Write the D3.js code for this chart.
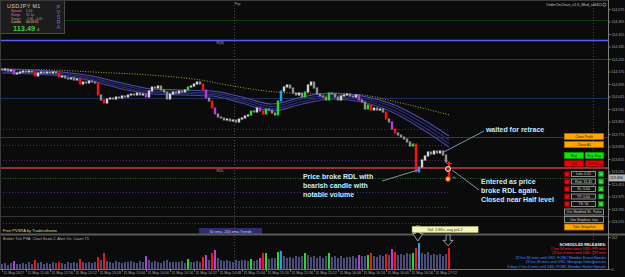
<!DOCTYPE html>
<html>
<head>
<meta charset="utf-8">
<script src="https://cdn.jsdelivr.net/npm/d3@7"></script>
<style>
  html, body { margin: 0; padding: 0; background: #0b0b0b; overflow: hidden; }
  svg { display: block; }
  text { font-family: "Liberation Sans", Arial, sans-serif; }
</style>
</head>
<body>
<script>
// USDJPY M1 closes (2-minute steps)
const firstOpen = 114.188;
const closes = [
  114.185, 114.191, 114.178, 114.185, 114.159, 114.165, 114.172, 114.178, 114.172, 114.178,
  114.172, 114.146, 114.165, 114.172, 114.165, 114.172, 114.165, 114.172, 114.165, 114.140,
  114.146, 114.133, 114.127, 114.133, 114.121, 114.127, 114.095, 114.108, 114.101, 114.114,
  114.108, 114.101, 114.025, 113.993, 113.973, 113.999, 114.005, 113.999, 114.012, 114.005,
  114.018, 114.012, 114.025, 114.031, 114.025, 114.037, 114.025, 114.031, 114.012, 114.050,
  114.076, 114.069, 114.082, 114.057, 114.044, 113.999, 114.031, 114.044, 114.037, 114.050,
  114.044, 114.057, 114.076, 114.082, 114.095, 114.108, 114.095, 114.057, 114.005, 113.986,
  113.941, 113.903, 113.884, 113.877, 113.865, 113.871, 113.858, 113.865, 113.852, 113.871,
  113.877, 113.890, 113.897, 113.922, 113.916, 113.941, 113.922, 113.903, 113.935, 113.929,
  113.909, 113.897, 113.986, 114.050, 114.076, 114.089, 114.069, 114.037, 114.025, 114.037,
  114.012, 114.044, 114.089, 114.108, 114.069, 114.031, 114.018, 114.012, 113.993, 114.037,
  114.031, 114.012, 113.993, 114.018, 114.025, 114.031, 114.018, 114.012, 114.025, 113.993,
  113.980, 113.935, 113.961, 113.929, 113.941, 113.929, 113.935, 113.916, 113.871, 113.852,
  113.807, 113.781, 113.769, 113.756, 113.743, 113.724, 113.698, 113.711, 113.532, 113.564,
  113.609, 113.634, 113.660, 113.647, 113.666, 113.653, 113.666, 113.641, 113.596, 113.494
];

const volumes = [
  18, 22, 15, 20, 28, 19, 16, 21, 17, 23,
  18, 32, 20, 24, 18, 22, 19, 25, 21, 26,
  22, 19, 24, 20, 23, 21, 35, 24, 20, 26,
  22, 25, 42, 30, 56, 28, 25, 22, 27, 24,
  21, 26, 23, 28, 25, 22, 27, 24, 45, 30,
  26, 28, 24, 22, 27, 30, 25, 23, 26, 24,
  28, 22, 35, 26, 24, 28, 25, 42, 49, 32,
  56, 66, 38, 30, 27, 32, 29, 26, 31, 28,
  33, 30, 27, 36, 29, 33, 40, 56, 56, 36,
  40, 38, 60, 63, 45, 40, 43, 38, 47, 42,
  44, 56, 48, 42, 46, 40, 44, 39, 45, 56,
  42, 46, 40, 44, 38, 43, 41, 45, 39, 48,
  44, 47, 50, 56, 45, 42, 48, 44, 52, 48,
  70, 60, 50, 53, 48, 55, 51, 56, 74, 91,
  55, 52, 58, 50, 54, 49, 53, 47, 51, 74
];

// PVSRA coloured bars: r climax bear, g climax bull, m rising bear, b rising bull
const pvsraBars = [
  [4, 'm'], [11, 'r'], [19, 'r'], [26, 'r'], [32, 'r'], [34, 'r'], [48, 'm'], [62, 'g'],
  [67, 'r'], [68, 'm'], [70, 'r'], [71, 'm'], [83, 'g'], [86, 'm'], [87, 'r'], [88, 'g'],
  [92, 'g'], [93, 'b'], [101, 'g'], [109, 'g'], [119, 'm'], [122, 'g'], [123, 'r'],
  [128, 'r'], [130, 'm'], [131, 'r'], [137, 'g'], [138, 'r'], [139, 'b'], [149, 'r']
];

// 50 ema ribbon, sampled at these bars
const ribbonBars = [0, 10, 20, 30, 40, 50, 60, 70, 80, 90, 100, 110, 120, 130, 140, 149];
const ribbon1 = [114.191, 114.185, 114.172, 114.146, 114.101, 114.063, 114.057, 114.050, 114.012, 113.967, 114.012, 114.037, 114.018, 113.967, 113.871, 113.762];
const ribbon2 = [114.181, 114.175, 114.162, 114.133, 114.089, 114.050, 114.044, 114.037, 113.999, 113.951, 113.999, 114.025, 114.005, 113.951, 113.849, 113.737];
const ribbon3 = [114.172, 114.165, 114.153, 114.124, 114.076, 114.041, 114.034, 114.028, 113.986, 113.935, 113.983, 114.012, 113.993, 113.932, 113.826, 113.714];
const ribbon4 = [114.165, 114.159, 114.146, 114.114, 114.063, 114.031, 114.025, 114.018, 113.973, 113.922, 113.967, 113.999, 113.980, 113.916, 113.807, 113.692];

// 200 ema
const ema200Bars = [0, 16, 33, 49, 66, 77, 88, 100, 118, 133, 149];
const ema200 = [114.190, 114.185, 114.169, 114.153, 114.121, 114.082, 114.050, 114.034, 114.028, 113.973, 113.897];

// levels
const solidLevels = [114.505, 114.377, 114.255, 114.005, 113.756, 113.250];
const dottedLevels = [113.807, 113.705, 113.609, 113.404, 113.308, 113.205];
const rdlLevel = 113.557;
const bid = 113.494;

// trade
const tradeEntry = 113.551;
const tradeExit = 113.487;
const tradeStop = 113.591;
const tradeTarget = 113.500;

const priceTicks = [114.575, 114.495, 114.415, 114.335, 114.255, 114.175, 114.095, 114.015, 113.935,
  113.855, 113.775, 113.695, 113.615, 113.535, 113.455, 113.375, 113.295, 113.215];
const volTicks = [0, 112];
const timeLabels = ["11 May 2017", "11 May 12:40", "11 May 12:56", "11 May 13:12", "11 May 13:28",
  "11 May 13:44", "11 May 14:00", "11 May 14:16", "11 May 14:32", "11 May 14:48", "11 May 15:04",
  "11 May 15:20", "11 May 15:36", "11 May 15:52", "11 May 16:08", "11 May 16:24", "11 May 16:40",
  "11 May 16:56", "11 May 17:12"];

const releases = [
  "1 hrs 54 mins since USD: PPI m/m",
  "22 hrs 4 mins until USD: CPI m/m",
  "22 hrs 36 mins until USD: FOMC Member Evans Speaks",
  "23 hrs 36 mins until USD: Mortgage Delinquencies",
  "3 days 2 hrs 4 mins until USD: FOMC Member Harker Speaks"
];

const note1 = ["waited for retrace"];
const note2 = ["Price broke RDL with", "bearish candle with", "notable volume"];
const note3 = ["Entered as price", "broke RDL again.", "Closed near Half level"];

const W = 625, H = 277;
const t0 = new Date(2017, 4, 11, 12, 24);
const barTime = i => new Date(t0.getTime() + i * 120000);

const x = d3.scaleTime().domain([t0, d3.timeMinute.offset(t0, 400)]).range([2, 602]);
const y = d3.scaleLinear().domain([113.135, 114.575]).range([234, 9]);
const yv = d3.scaleLinear().domain([0, 112]).range([269, 237]);
const bx = i => Math.round(x(barTime(i)));

const pvsraColor = { r: '#ff1010', g: '#20e020', m: '#b040dc', b: '#1e9cff' };

const svg = d3.select('body').append('svg').attr('width', W).attr('height', H);
svg.append('rect').attr('width', W).attr('height', H).attr('fill', '#0b0b0b');

svg.append('clipPath').attr('id', 'main')
  .append('rect').attr('x', 1).attr('y', 1).attr('width', 607).attr('height', 232);
const plot = svg.append('g').attr('clip-path', 'url(#main)');

// horizontal levels
const solidColor = ['#0f3c0f', '#5c5cf4', '#36361e', '#1e2d5e', '#3c3c1e', '#333333'];
plot.selectAll('line.lvl').data(solidLevels).join('line')
  .attr('x1', 0).attr('x2', 608)
  .attr('y1', d => Math.round(y(d)) + 0.5).attr('y2', d => Math.round(y(d)) + 0.5)
  .attr('stroke', (d, i) => solidColor[i])
  .attr('stroke-width', (d, i) => i == 1 ? 1.3 : 1);

plot.selectAll('line.dot').data(dottedLevels).join('line')
  .attr('x1', 0).attr('x2', bx(149) + 1)
  .attr('y1', d => Math.round(y(d)) + 0.5).attr('y2', d => Math.round(y(d)) + 0.5)
  .attr('stroke', '#4c2470').attr('stroke-dasharray', '1,2');

plot.append('line')
  .attr('x1', 0).attr('x2', 608)
  .attr('y1', Math.round(y(bid)) + 0.5).attr('y2', Math.round(y(bid)) + 0.5)
  .attr('stroke', '#2c6a2c').attr('stroke-dasharray', '1,1.5');

plot.append('line')
  .attr('x1', 0).attr('x2', 608)
  .attr('y1', y(rdlLevel)).attr('y2', y(rdlLevel))
  .attr('stroke', '#8a3636').attr('stroke-width', 2);

// vertical dotted lines
[new Date(2017, 4, 11, 14, 58, 40), new Date(2017, 4, 11, 18, 58)].forEach(t => {
  svg.append('line')
    .attr('x1', Math.round(x(t)) + 0.5).attr('x2', Math.round(x(t)) + 0.5)
    .attr('y1', 2).attr('y2', 269)
    .attr('stroke', '#4a4a4a').attr('stroke-dasharray', '1,2');
});

// 200 ema
plot.append('path')
  .datum(ema200Bars.map((b, i) => [b, ema200[i]]))
  .attr('fill', 'none').attr('stroke', '#a4a440').attr('stroke-dasharray', '1,1.6')
  .attr('d', d3.line().x(d => x(barTime(d[0]))).y(d => y(d[1])).curve(d3.curveMonotoneX));

// 50 ema ribbon
const ribbonColor = ['#5050b4', '#2e2e7c', '#2e2e7c', '#4646a4'];
[ribbon1, ribbon2, ribbon3, ribbon4].forEach((r, k) => {
  plot.append('path')
    .datum(ribbonBars.map((b, i) => [b, r[i]]))
    .attr('fill', 'none').attr('stroke', ribbonColor[k]).attr('stroke-width', 1.1)
    .attr('d', d3.line().x(d => x(barTime(d[0]))).y(d => y(d[1])).curve(d3.curveMonotoneX));
});

// candles
const kind = new Map(pvsraBars);
const candles = closes.map((c, i) => ({ i, open: i ? closes[i - 1] : firstOpen, close: c }));
plot.selectAll('rect.candle').data(candles).join('rect')
  .attr('x', d => bx(d.i) - 1.2)
  .attr('width', 2.4)
  .attr('y', d => Math.round(Math.min(y(d.open), y(d.close))) - 0.5)
  .attr('height', d => Math.max(2, Math.round(Math.abs(y(d.open) - y(d.close))) + 1))
  .attr('fill', d => kind.has(d.i) ? pvsraColor[kind.get(d.i)] : (d.close >= d.open ? '#d2d2d2' : '#8e8e8e'));

// level labels
const small = (g, tx, ty, s, col, size, anchor) => g.append('text')
  .attr('x', tx).attr('y', ty).text(s)
  .attr('fill', col).attr('font-size', size || 4)
  .attr('text-anchor', anchor || 'start');
small(plot, x(barTime(71.5)), y(solidLevels[1]) + 4.5, 'R(4)', '#b0b0b0', 3.8);
small(plot, x(barTime(71.5)), y(rdlLevel) + 4, 'RDL', '#a0a0a0', 3.8);
small(svg, x(new Date(2017, 4, 11, 14, 59, 20)), 5, 'Fip', '#a8a878', 3.8);
small(svg, 602, 6, 'OrderOnChart_v1.0_Mod_sdf411', '#c4c4c4', 3.8, 'end');
svg.append('circle').attr('cx', 604.5).attr('cy', 4.6).attr('r', 1.6)
  .attr('fill', 'none').attr('stroke', '#c4c4c4').attr('stroke-width', 0.6);

// annotations
const noteFill = '#c4ecff';
const connector = (a, b) => svg.append('line')
  .attr('x1', x(barTime(a[0]))).attr('y1', y(a[1]))
  .attr('x2', x(barTime(b[0]))).attr('y2', y(b[1]))
  .attr('stroke', '#7896a0').attr('stroke-width', 1);
connector([147.3, 113.660], [160.7, 113.794]);
connector([126.7, 113.474], [138.7, 113.545]);
connector([150, 113.545], [159, 113.417]);

const note = (lines, at) => {
  const t = svg.append('text')
    .attr('x', x(barTime(at[0]))).attr('y', y(at[1]))
    .attr('fill', noteFill).attr('font-size', 7).attr('font-weight', 'bold');
  t.selectAll('tspan').data(lines).join('tspan')
    .attr('x', x(barTime(at[0])))
    .attr('dy', (d, i) => i ? 9 : 0)
    .text(d => d);
};
note(note1, [161.3, 113.788]);
note(note2, [100.3, 113.484]);
note(note3, [159.7, 113.458]);

// trade markers
const tx = x(barTime(148.67));
svg.append('line').attr('x1', tx - 2).attr('x2', tx + 4)
  .attr('y1', Math.round(y(tradeStop)) + 0.5).attr('y2', Math.round(y(tradeStop)) + 0.5)
  .attr('stroke', '#e02020');
svg.append('circle').attr('cx', tx).attr('cy', y(tradeEntry)).attr('r', 2.4)
  .attr('fill', '#b01818').attr('stroke', '#ffffff').attr('stroke-width', 1);
svg.append('circle').attr('cx', tx).attr('cy', y(tradeExit)).attr('r', 2.4)
  .attr('fill', '#ffd020').attr('stroke', '#e02020').attr('stroke-width', 1);
small(svg, x(barTime(150.67)), y(tradeTarget) + 2, '+', '#30e030', 6, 'middle');

// info panel
svg.append('rect').attr('x', 0.5).attr('y', 0.5).attr('width', 64).attr('height', 33)
  .attr('fill', '#1c1c1c').attr('stroke', '#4a4a4a');
svg.append('text').attr('x', 7).attr('y', 8).text('USDJPY  M1')
  .attr('fill', '#d0d0d0').attr('font-size', 5.4).attr('letter-spacing', 0.4);
const info = [['Spread', '0.00', '#e07890'], ['Range', '92.1p', '#b08cc8'],
  ['Swaps', '-2.66, -4.40', '#b08cc8'], ['Candle', '00:00:31', '#e0d070']];
info.forEach((r, i) => {
  small(svg, 11, 12 + i * 3.8, r[0], r[2], 3.2);
  small(svg, 26, 12 + i * 3.8, r[1], r[2], 3.2);
});
svg.append('text').attr('x', 13).attr('y', 30.5).text('113.49')
  .attr('fill', '#38d038').attr('font-size', 7.4).attr('font-weight', 'bold');
small(svg, 37, 30.5, '4', '#c8c8c8', 4);
'PVSRA'.split('').forEach((c, i) => small(svg, 58.5, 9 + i * 5, c, '#7c7cc4', 5, 'middle'));

// order buttons
const btn = (bx0, by0, w, h, fill, stroke, label, col) => {
  svg.append('rect').attr('x', bx0 + 0.5).attr('y', by0 + 0.5).attr('width', w).attr('height', h)
    .attr('fill', fill).attr('stroke', stroke).attr('stroke-width', 0.8);
  small(svg, bx0 + w / 2 + 0.5, by0 + h / 2 + 1.7, label, col, 3.4, 'middle');
};
btn(564, 133, 39, 6, '#ffa500', '#b86a00', 'Close Profit', '#222');
btn(564, 141, 39, 6, '#ffa500', '#b86a00', 'Close All', '#222');
btn(564, 152, 19, 6, '#00f000', '#00a000', 'Buy', '#222');
btn(585, 152, 18, 6, '#00f000', '#00a000', 'Buy Stop', '#222');
btn(564, 160, 19, 6, '#f00000', '#a00000', 'Sell', '#222');
btn(585, 160, 18, 6, '#f00000', '#a00000', 'Sell Stop', '#222');
['Lots: 0.01', 'Risk: 31.45', 'SL: 0.00', 'TP: 0.00', 'TS: 50'].forEach((s, i) => {
  const ry = 171 + i * 7.5;
  btn(564, ry, 5, 5, '#e00000', '#900000', '-', '#fff');
  btn(571, ry, 24, 5, '#161616', '#a8a8a8', s, '#d8d8d8');
  btn(598, ry, 5, 5, '#20d020', '#108010', '+', '#fff');
});
btn(564, 208.5, 39, 6, '#161616', '#a8a8a8', 'Use Modified SL: False', '#d8d8d8');
btn(564, 216, 39, 6, '#161616', '#a8a8a8', 'Use Stoploss: true', '#d8d8d8');
btn(564, 223.5, 39, 6, '#ffa500', '#b86a00', 'Take Snapshot', '#222');

// bottom of main window
small(svg, 3, 232, 'Free PVSRA by Traderathome', '#dede70', 4);
svg.append('rect').attr('x', x(barTime(65.7))).attr('y', 228).attr('width', 63).attr('height', 6)
  .attr('fill', '#2c2c6e');
small(svg, x(barTime(65.7)) + 31.5, 232.6, '50 ema, 200 ema Trends', '#d0d0ee', 3.8, 'middle');

// separator
svg.append('line').attr('x1', 0).attr('x2', W).attr('y1', 234.5).attr('y2', 234.5)
  .attr('stroke', '#5a5a5a').attr('stroke-width', 2);

// volume window
small(svg, 3, 240, 'Broker Tick PVA:   Chart Scale 2,   Alert On,   Count  75', '#b4b4b4', 3.8);
svg.selectAll('rect.vol').data(volumes).join('rect')
  .attr('x', (d, i) => bx(i) - 1)
  .attr('width', 2)
  .attr('y', d => Math.round(yv(d)))
  .attr('height', d => 269 - Math.round(yv(d)))
  .attr('fill', (d, i) => kind.has(i) ? pvsraColor[kind.get(i)] : '#4c4c7a');

// hollow arrows above the two spikes
const arrow = (i, h) => {
  const cx = x(barTime(i)), tip = yv(volumes[Math.round(i)]) - 2, top = tip - h;
  const mid = top + h * 0.5;
  svg.append('path')
    .attr('d', `M${cx - 2},${top}H${cx + 2}V${mid}H${cx + 5}L${cx},${tip}L${cx - 5},${mid}H${cx - 2}Z`)
    .attr('fill', '#0b0b0b').attr('stroke', '#8aa4a6').attr('stroke-width', 1);
};
arrow(138.6, 15);
arrow(148.7, 11);

svg.append('rect').attr('x', x(barTime(136.7))).attr('y', 226.5).attr('width', 66).attr('height', 6)
  .attr('fill', '#f4f4b4').attr('stroke', '#c8c880').attr('stroke-width', 0.5);
svg.append('text').attr('x', x(barTime(136.7)) + 33).attr('y', 230.9)
  .text('Vol: 1.6Ks, avg pr4.2').attr('fill', '#333').attr('font-size', 3.8)
  .attr('text-anchor', 'middle').attr('font-family', 'DejaVu Sans Mono');

small(svg, 606, 245.5, 'SCHEDULED RELEASES:', '#f0f0f0', 3.8, 'end').attr('font-weight', 'bold');
releases.forEach((s, i) => small(svg, 606, 250 + i * 4.4, s, i < 2 ? '#ff2a2a' : '#4a8cff', 3.6, 'end'));

// window frame
svg.append('line').attr('x1', 0.5).attr('x2', 0.5).attr('y1', 0).attr('y2', 269).attr('stroke', '#3a3a3a');
svg.append('line').attr('x1', 0).attr('x2', 608).attr('y1', 0.5).attr('y2', 0.5).attr('stroke', '#3a3a3a');
svg.append('line').attr('x1', 0).attr('x2', 608).attr('y1', 269.5).attr('y2', 269.5).attr('stroke', '#707070');
svg.append('line').attr('x1', 608.5).attr('x2', 608.5).attr('y1', 0).attr('y2', 270).attr('stroke', '#808080');

// price axis
const yAxis = svg.append('g').attr('transform', 'translate(608.5,0)')
  .call(d3.axisRight(y).tickValues(priceTicks).tickSize(2).tickFormat(d3.format('.3f')));
yAxis.select('.domain').remove();
yAxis.selectAll('line').attr('stroke', '#808080');
yAxis.selectAll('text').attr('fill', '#a8a8a8').attr('font-size', 3.6).attr('x', 3)
  .attr('font-family', '"Liberation Sans", Arial, sans-serif');

svg.append('rect').attr('x', 609).attr('y', y(bid) - 3.5).attr('width', 16).attr('height', 7)
  .attr('fill', '#b4b4b4');
small(svg, 610, y(bid) + 1.3, d3.format('.3f')(bid), '#000', 3.6);

const vAxis = svg.append('g').attr('transform', 'translate(608.5,0)')
  .call(d3.axisRight(yv).tickValues(volTicks).tickSize(2));
vAxis.select('.domain').remove();
vAxis.selectAll('line').attr('stroke', '#808080');
vAxis.selectAll('text').attr('fill', '#a8a8a8').attr('font-size', 3.6).attr('x', 3)
  .attr('font-family', '"Liberation Sans", Arial, sans-serif');

// time axis
const timeTicks = timeLabels.map((d, i) => d3.timeMinute.offset(t0, 16 * i));
const xAxis = svg.append('g').attr('transform', 'translate(0,269.5)')
  .call(d3.axisBottom(x).tickValues(timeTicks).tickSize(2).tickFormat((d, i) => timeLabels[i]));
xAxis.select('.domain').remove();
xAxis.selectAll('line').attr('stroke', '#808080');
xAxis.selectAll('text').attr('fill', '#a8a8a8').attr('font-size', 3.6)
  .attr('text-anchor', 'start').attr('x', 1).attr('y', 2).attr('dy', '0.71em')
  .attr('font-family', '"Liberation Sans", Arial, sans-serif');
</script>
</body>
</html>
